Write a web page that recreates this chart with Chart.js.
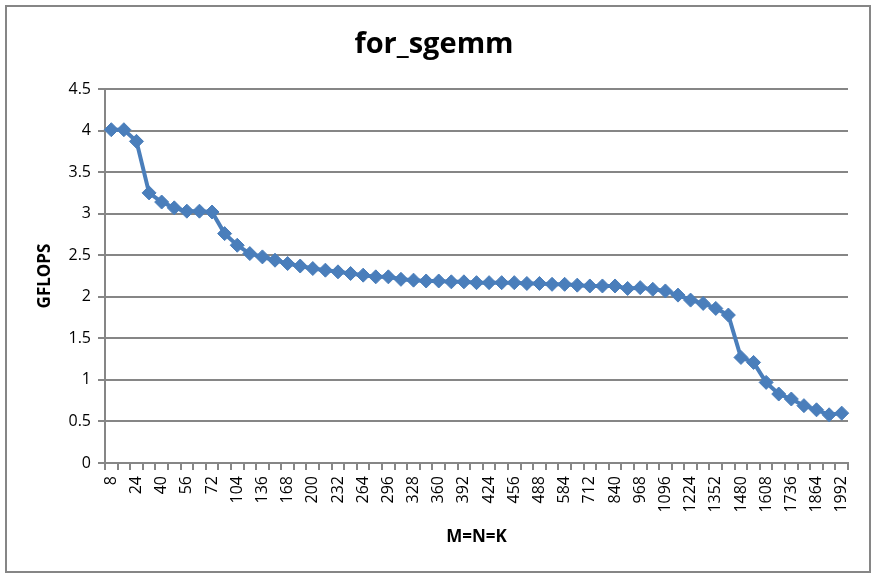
<!DOCTYPE html>
<html>
<head>
<meta charset="utf-8">
<script src="https://cdn.jsdelivr.net/npm/chart.js@4"></script>
<style>
    html, body { margin: 0; padding: 0; background: #fff; }
    #wrap { width: 876px; height: 578px; position: relative; }
</style>
</head>
<body>
<div id="wrap"><canvas id="sgemmChart"></canvas></div>
<script>
// Matrix sizes (M=N=K) and measured GFLOPS
const sizes = [
    8, 16, 24, 32, 40, 48, 56, 64, 72,
    88, 104, 120, 136, 152, 168, 184, 200, 216, 232, 248, 264, 280, 296, 312,
    328, 344, 360, 376, 392, 408, 424, 440, 456, 472, 488,
    536, 584, 648, 712, 776, 840, 904, 968, 1032, 1096, 1160, 1224, 1288,
    1352, 1416, 1480, 1544, 1608, 1672, 1736, 1800, 1864, 1928, 1992
];
const gflops = [
    4.01, 4.01, 3.87, 3.25, 3.14, 3.07, 3.03, 3.03, 3.02,
    2.76, 2.62, 2.52, 2.48, 2.44, 2.40, 2.37, 2.34, 2.32, 2.30, 2.28, 2.26, 2.24, 2.24, 2.21,
    2.20, 2.19, 2.19, 2.18, 2.18, 2.17, 2.17, 2.17, 2.17, 2.16, 2.16,
    2.15, 2.15, 2.14, 2.13, 2.13, 2.13, 2.10, 2.11, 2.09, 2.07, 2.02, 1.96, 1.92,
    1.86, 1.78, 1.27, 1.21, 0.97, 0.83, 0.77, 0.69, 0.64, 0.58, 0.60
];
const yTicks = [0, 0.5, 1, 1.5, 2, 2.5, 3, 3.5, 4, 4.5];

const gridGrey = '#868686';
const lineBlue = '#4A7EBB';
const fontFamily = "'Open Sans', sans-serif";

// white background + outer frame
const framePlugin = {
    id: 'frame',
    beforeDraw(chart) {
        const c = chart.ctx;
        c.save();
        c.fillStyle = '#fff';
        c.fillRect(0, 0, chart.width, chart.height);
        c.strokeStyle = gridGrey;
        c.lineWidth = 2;
        c.strokeRect(6, 6, 864, 566);
        c.restore();
    }
};

const ctx = document.getElementById('sgemmChart').getContext('2d');
const sgemmChart = new Chart(ctx, {
    type: 'line',
    data: {
        labels: sizes,
        datasets: [{
            label: 'for_sgemm',
            data: gflops,
            borderColor: lineBlue,
            backgroundColor: lineBlue,
            borderWidth: 4,
            pointStyle: 'rectRot',
            pointRadius: 7,
            pointBorderWidth: 1,
            pointBackgroundColor: lineBlue,
            pointBorderColor: lineBlue,
            tension: 0,
            fill: false
        }]
    },
    options: {
        responsive: true,
        maintainAspectRatio: false,
        animation: false,
        layout: {
            padding: { top: 0, left: 20, right: 28, bottom: 6 }
        },
        plugins: {
            legend: { display: false },
            tooltip: { enabled: false },
            title: {
                display: true,
                text: 'for_sgemm',
                color: '#000',
                font: { family: fontFamily, size: 29, weight: 'bold' },
                padding: { top: 27.6, bottom: 26.6 }
            }
        },
        scales: {
            x: {
                type: 'category',
                offset: true,
                afterFit: function(scale) { scale.height = 109; },
                grid: {
                    display: true,
                    offset: true,
                    drawOnChartArea: false,
                    drawTicks: true,
                    tickLength: 7,
                    color: gridGrey,
                    lineWidth: 2
                },
                border: { color: gridGrey, width: 2 },
                ticks: {
                    autoSkip: false,
                    maxRotation: 90,
                    minRotation: 90,
                    padding: 6,
                    color: '#000',
                    font: { family: fontFamily, size: 16 },
                    callback: function(value, index) {
                        return index % 2 === 0 ? String(sizes[index]) : '';
                    }
                },
                title: {
                    display: true,
                    text: 'M=N=K',
                    color: '#000',
                    font: { family: fontFamily, size: 17, weight: 'bold' },
                    padding: { top: 0, bottom: 24.3 }
                }
            },
            y: {
                min: 0,
                max: 4.5,
                afterFit: function(scale) { scale.width = 85; },
                afterBuildTicks: function(scale) {
                    scale.ticks = yTicks.map(v => ({ value: v }));
                },
                grid: {
                    color: gridGrey,
                    lineWidth: 2,
                    drawTicks: true,
                    tickLength: 7
                },
                border: { color: gridGrey, width: 2 },
                ticks: {
                    padding: 7,
                    color: '#000',
                    font: { family: fontFamily, size: 16 },
                    callback: function(value) { return String(value); }
                },
                title: {
                    display: true,
                    text: 'GFLOPS',
                    color: '#000',
                    font: { family: fontFamily, size: 17, weight: 'bold' },
                    padding: { top: 14.8, bottom: 0 }
                }
            }
        }
    },
    plugins: [framePlugin]
});
</script>
</body>
</html>
